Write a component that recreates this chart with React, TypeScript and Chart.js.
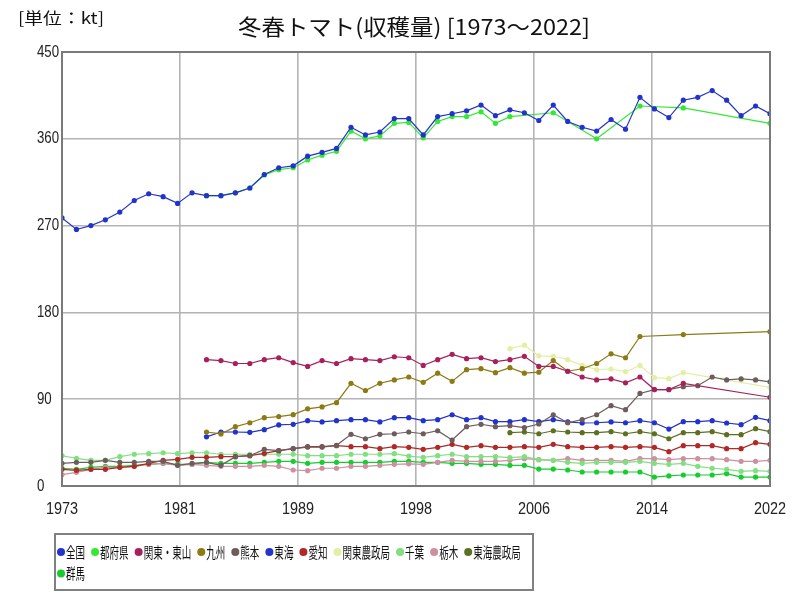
import React, { useEffect, useRef } from 'react';
import { Chart, registerables } from 'chart.js';
Chart.register(...registerables);

const titleText = '冬春トマト(収穫量) [1973〜2022]';
const unitText = '[単位：kt]';

const years = [
  1973, 1974, 1975, 1976, 1977, 1978, 1979, 1980, 1981, 1982,
  1983, 1984, 1985, 1986, 1987, 1988, 1989, 1990, 1991, 1992,
  1993, 1994, 1995, 1996, 1997, 1998, 1999, 2000, 2001, 2002,
  2003, 2004, 2005, 2006, 2007, 2008, 2009, 2010, 2011, 2012,
  2013, 2014, 2015, 2016, 2017, 2018, 2019, 2020, 2021, 2022,
];

const xTickLabels = ['1973', '1981', '1989', '1998', '2006', '2014', '2022'];
const yTickValues = [0, 90, 180, 270, 360, 450];

const N = null;

const zenkoku = [
  278, 266, 270, 276, 284, 296, 303, 300, 293, 304,
  301, 301, 304, 309, 323, 330, 332, 342, 346, 350,
  372, 364, 367, 381, 381, 364, 383, 386, 389, 395,
  384, 390, 387, 379, 395, 378, 372, 368, 380, 370,
  403, 391, 382, 400, 403, 410, 400, 384, 394, 386,
];
const todofuken = [
  N, N, N, N, N, N, N, N, N, N,
  301, 301, 304, 309, 322.5, 328, 330, 338, 343, 347,
  368, 360, 363, 376, 377, 361, 378, 383, 383, 388,
  376, 383, N, N, 387, N, N, 360, N, N,
  394, N, N, 392, N, N, N, N, N, 376,
];
const kantoTosan = [
  N, N, N, N, N, N, N, N, N, N,
  131, 130, 127, 127, 131, 133, 128, 124, 130, 127,
  132, 131, 130, 134, 133, 125, 131, 136.5, 132, 133,
  129, 131, 134.5, 124, 124, 119, 113, 110, 111, 107,
  113, 100, 100, 106.5, N, N, N, N, N, 92,
];
const kyushu = [
  N, N, N, N, N, N, N, N, N, N,
  56, 54, 61.5, 65.6, 70.8, 72, 74, 80, 82, 86.4,
  106.5, 99, 106.5, 110, 113, 107.5, 117, 108.5, 120.6, 121.6,
  117.5, 122.7, 117, 118, 130, 119, 121.6, 127, 137, 133,
  155, N, N, 157, N, N, N, N, N, 160,
];
const kumamoto = [
  23.5, 24.5, 24.5, 26.6, 24.5, 24.5, 25.6, 25.6, 21.4, 23.5,
  24.5, 21.4, 30.4, 31.4, 38, 36.6, 38.7, 40.4, 40.4, 42.2,
  53.6, 49, 53.6, 54.2, 56, 54.2, 57.3, 47.7, 61.5, 64,
  61.5, 62.5, 60.5, 64.3, 73.9, 65.6, 68.8, 73.9, 83.3, 79.1,
  96, 100, 100, 103, 104, 113, 110, 111, 110, 108,
];
const tokai = [
  N, N, N, N, N, N, N, N, N, N,
  51, 56, 56, 55.7, 58.4, 63.3, 64, 67.7, 66.4, 67.7,
  68.8, 68.8, 66.4, 70.8, 70.8, 67.7, 68.8, 73.9, 68.8, 70.8,
  66.7, 66.7, 68.8, 66.7, 68.8, 66.4, 65.3, 65.6, 66.4, 65.6,
  67.7, 65.6, 59, 66.7, 66.7, 67.7, 65.3, 63.6, 71.2, 67.7,
];
const aichi = [
  17.3, 16.3, 17.3, 17.3, 19.4, 20.4, 23.5, 26.6, 27.6, 29.7,
  29.7, 30.4, 30.4, 31.4, 33.9, 36.6, 38.7, 40.8, 40.8, 41.8,
  40.8, 40.8, 38.7, 40.8, 40.1, 38, 40.1, 43.2, 40.1, 41.8,
  40.1, 40.1, 40.8, 40.1, 43.2, 40.8, 40.1, 40.1, 40.8, 40.1,
  40.8, 40.1, 35.6, 41.8, 41.8, 41.8, 38.7, 38.7, 44.9, 43.2,
];
const kantoNoseikyoku = [
  N, N, N, N, N, N, N, N, N, N,
  N, N, N, N, N, N, N, N, N, N,
  N, N, N, N, N, N, N, N, N, N,
  N, 142.4, 146, 135, 134.5, 131, 125, 120.6, 121.3, 118.5,
  125, 112.3, 111.3, 117.5, N, N, N, N, N, 102.3,
];
const chiba = [
  31.4, 28.7, 26.6, 26.6, 30.4, 32.9, 33.5, 34.5, 33.5, 34.5,
  34.5, 32.9, 32.9, 32.9, 32.9, 32.9, 32.9, 31.4, 31.4, 31.4,
  32.9, 32.9, 32.9, 33.5, 31, 29.7, 31.4, 32.9, 30.4, 30.4,
  30.4, 29.4, 30.4, 27.3, 26.6, 24.5, 23.5, 24.5, 24.5, 24.5,
  25.6, 23.5, 22.5, 23.5, 20.4, 18.4, 17.3, 15.2, 15.9, 15.2,
];
const tochigi = [
  11.7, 14.2, 17.3, 19.4, 19.4, 20.4, 22.5, 23.5, 21.4, 22.5,
  21.4, 20.4, 20.4, 20.4, 21.4, 20.4, 16.6, 15.9, 18.4, 18.4,
  20.4, 20.4, 21.4, 22.5, 23, 22.5, 24.5, 26.6, 25.6, 25.6,
  25.6, 26.6, 28.3, 27.3, 26.6, 28.3, 26.6, 26.6, 26.6, 25.6,
  28.3, 28.3, 27.3, 28.3, 28.3, 28.3, 27.3, 25.6, 25.6, 26.6,
];
const tokaiNoseikyoku = [
  N, N, N, N, N, N, N, N, N, N,
  N, N, N, N, N, N, N, N, N, N,
  N, N, N, N, N, N, N, N, N, N,
  N, 55.3, 56, 54.2, 57.3, 56, 55.3, 55.3, 56.3, 54.2,
  56.3, 54.2, 49, 55.3, 55.3, 56.3, 53.2, 53.2, 59.4, 56.3,
];
const gunma = [
  18.4, 17.3, 19.4, 20.4, 20.4, 21.4, 22.5, 23.5, 22.5, 22.5,
  24.5, 23.5, 23.5, 23.5, 24.5, 25.6, 25.6, 23.5, 24.5, 24.5,
  24.5, 24.5, 24.5, 25.6, 25.6, 24.5, 24.5, 23.5, 23.5, 22.5,
  22.5, 21.4, 21.4, 17.6, 17.6, 16.6, 14.5, 14.5, 14.5, 14.5,
  14.5, 9.3, 10.4, 11.4, 11.4, 11.4, 12.8, 9.3, 9.3, 9.3,
];

const seriesNames = ['全国', '都府県', '関東・東山', '九州', '熊本', '東海', '愛知', '関東農政局', '千葉', '栃木', '東海農政局', '群馬'];
const seriesValues = [zenkoku, todofuken, kantoTosan, kyushu, kumamoto, tokai, aichi, kantoNoseikyoku, chiba, tochigi, tokaiNoseikyoku, gunma];
const seriesColors = ['#2233cc', '#33e833', '#a8205a', '#8c7a14', '#6e5c5c', '#2233cc', '#b02828', '#e4eea4', '#80e080', '#cc90a0', '#5c7020', '#18cc30'];

const CJK = '"Noto Sans CJK JP", "Noto Sans", sans-serif';
const NUM = '"Liberation Sans", "DejaVu Sans", sans-serif';

function drawText(ctx: CanvasRenderingContext2D, text: string, x: number, y: number, font: string, scaleX: number, align: 'left' | 'center' | 'right', color = '#000') {
  ctx.save();
  ctx.font = font;
  ctx.fillStyle = color;
  const w = ctx.measureText(text).width * scaleX;
  let left = x;
  if (align === 'center') left = x - w / 2;
  else if (align === 'right') left = x - w;
  ctx.translate(left, y);
  ctx.scale(scaleX, 1);
  ctx.textAlign = 'left';
  ctx.textBaseline = 'middle';
  ctx.fillText(text, 0, 0);
  ctx.restore();
  return w;
}

function fitText(ctx: CanvasRenderingContext2D, text: string, font: string, width: number) {
  ctx.save();
  ctx.font = font;
  const w = ctx.measureText(text).width;
  ctx.restore();
  return width / w;
}

const decorPlugin = {
  id: 'decor',
  afterDraw(chart: any) {
    const ctx: CanvasRenderingContext2D = chart.ctx;
    const area = chart.chartArea;
    ctx.save();
    ctx.strokeStyle = '#7a7a7a';
    ctx.lineWidth = 2;
    ctx.strokeRect(area.left, area.top, area.right - area.left, area.bottom - area.top);
    ctx.restore();

    const tFont = `22px ${CJK}`;
    drawText(ctx, titleText, 414, 27, tFont, fitText(ctx, titleText, tFont, 352), 'center', '#111');
    const uFont = `16px ${CJK}`;
    drawText(ctx, unitText, 18, 18, uFont, fitText(ctx, unitText, uFont, 86), 'left', '#111');

    const yScale = chart.scales.y;
    const nf = `17px ${NUM}`;
    yTickValues.forEach((v) => {
      drawText(ctx, String(v), 37, yScale.getPixelForValue(v), nf, 0.78, 'left', '#222');
    });
    const xScale = chart.scales.x;
    xScale.ticks.forEach((t: any, i: number) => {
      drawText(ctx, xTickLabels[i], xScale.getPixelForValue(t.value), 509, nf, 0.85, 'center', '#222');
    });

    const lx0 = 55, ly0 = 534, lx1 = 533, ly1 = 590;
    ctx.save();
    ctx.strokeStyle = '#808080';
    ctx.lineWidth = 2;
    ctx.strokeRect(lx0, ly0, lx1 - lx0, ly1 - ly0);
    ctx.restore();
    const lFont = `15px ${CJK}`;
    const lScale = 0.635;
    let cx = 61;
    let cy = 552;
    chart.data.datasets.forEach((ds: any) => {
      ctx.save();
      ctx.font = lFont;
      const tw = ctx.measureText(ds.label).width * lScale;
      ctx.restore();
      if (cx + 5 + tw > lx1 - 1) {
        cx = 61;
        cy += 21.5;
      }
      ctx.save();
      ctx.fillStyle = ds.borderColor;
      ctx.beginPath();
      ctx.arc(cx, cy, 4, 0, Math.PI * 2);
      ctx.fill();
      ctx.restore();
      drawText(ctx, ds.label, cx + 5, cy, lFont, lScale, 'left', '#111');
      cx = cx + 5 + tw + 10;
    });
  },
};

export default function App() {
  const ref = useRef<HTMLCanvasElement | null>(null);
  useEffect(() => {
    document.body.style.margin = '0';
    const canvas = ref.current;
    if (!canvas) return;
    const datasets = seriesNames.map((name, si) => ({
      label: name,
      data: years
        .map((yr, i) => ({ x: yr, y: seriesValues[si][i] }))
        .filter((p) => p.y !== null),
      borderColor: seriesColors[si],
      backgroundColor: seriesColors[si],
      borderWidth: 1.2,
      pointRadius: 2.6,
      pointBorderWidth: 0,
      pointHoverRadius: 3,
      tension: 0,
      fill: false,
    }));
    const chart = new Chart(canvas, {
      type: 'line',
      data: { datasets },
      options: {
        responsive: false,
        animation: false,
        devicePixelRatio: 1,
        layout: { padding: { left: 62, right: 30, top: 52, bottom: 114 } },
        plugins: {
          legend: { display: false },
          title: { display: false },
          tooltip: { enabled: false },
        },
        scales: {
          x: {
            type: 'linear',
            min: years[0],
            max: years[years.length - 1],
            afterBuildTicks: (s: any) => {
              const span = years[years.length - 1] - years[0];
              s.ticks = xTickLabels.map((_, i) => ({ value: years[0] + (span * i) / (xTickLabels.length - 1) }));
            },
            afterFit: (s: any) => { s.height = 0; },
            ticks: { display: false },
            grid: { color: '#b4b4b4', lineWidth: 1.6, drawTicks: false },
            border: { display: false },
          },
          y: {
            min: 0,
            max: 450,
            afterBuildTicks: (s: any) => {
              s.ticks = yTickValues.map((v) => ({ value: v }));
            },
            afterFit: (s: any) => { s.width = 0; },
            ticks: { display: false },
            grid: { color: '#b4b4b4', lineWidth: 1.6, drawTicks: false },
            border: { display: false },
          },
        },
      } as any,
      plugins: [decorPlugin],
    });
    return () => chart.destroy();
  }, []);
  return (
    <div style={{ width: 800, height: 600, background: '#fff' }}>
      <canvas ref={ref} width={800} height={600} style={{ display: 'block' }} />
    </div>
  );
}
